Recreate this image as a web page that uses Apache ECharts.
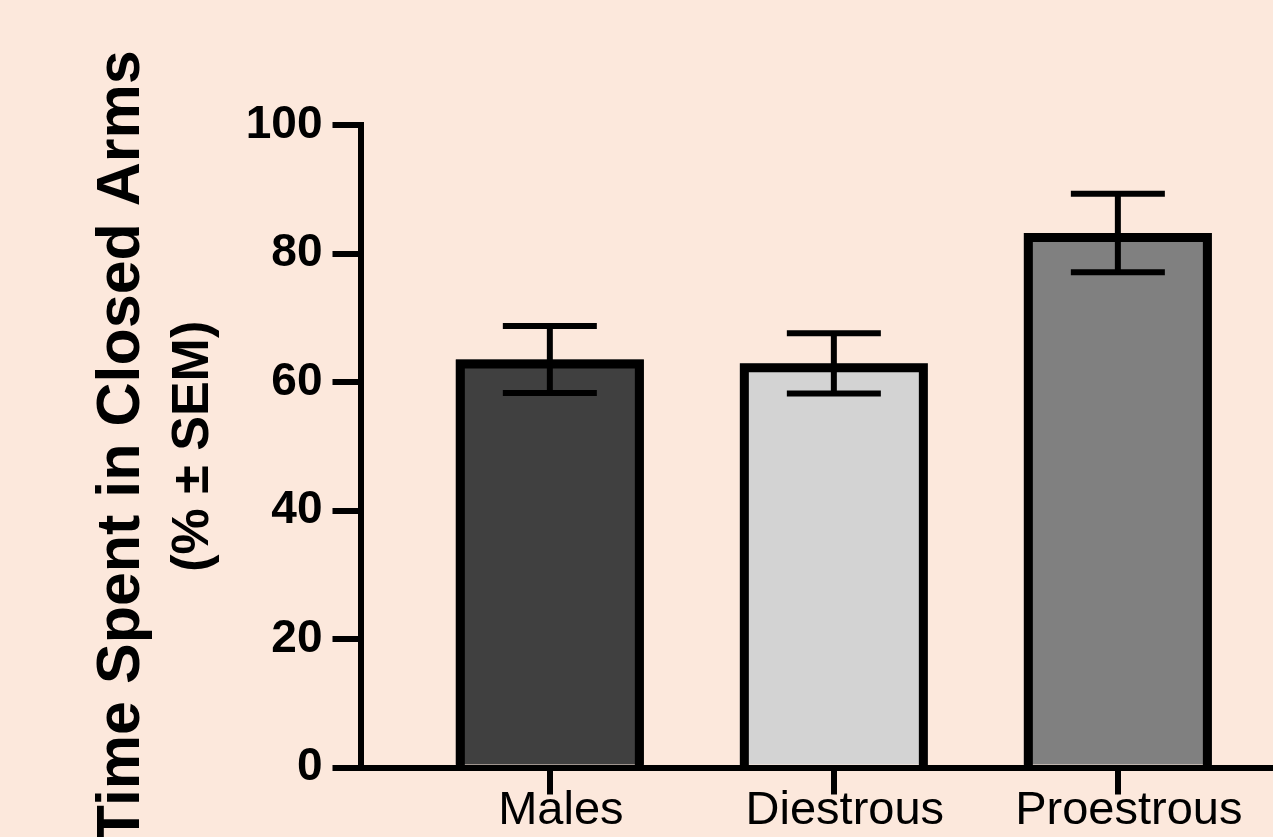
<!DOCTYPE html>
<html>
<head>
<meta charset="utf-8">
<script src="https://cdn.jsdelivr.net/npm/echarts@6/dist/echarts.min.js"></script>
<style>
  html, body { margin: 0; padding: 0; background: #fce8dc; }
  #chart { width: 1273px; height: 837px; }
</style>
</head>
<body>
<div id="chart"></div>
<script>
// Groups, means and SEM (% time in closed arms)
const categories = ['Males', 'Diestrous', 'Proestrous'];
const means = [63.5, 62.9, 83.2];
const sems = [5.2, 4.7, 6.1];
const fills = ['#404040', '#d3d3d3', '#808080'];
const categoryPositions = [0, 1, 2];

const FONT = '"Liberation Sans", Arial, Helvetica, sans-serif';
const BAR_FRACTION = 0.662;   // outer bar width as a fraction of one category step
const CAP_FRACTION = 0.331;   // error-bar cap width
const BORDER = 9;

const chart = echarts.init(document.getElementById('chart'), null, { renderer: 'canvas' });

chart.setOption({
  backgroundColor: '#fce8dc',
  animation: false,
  grid: {
    left: 360.5,
    top: 125,
    bottom: 69.5,
    width: 946.7,
    outerBoundsMode: 'none',
    containLabel: false
  },
  xAxis: {
    type: 'value',
    min: -2 / 3,
    max: 2 + 2 / 3,
    splitLine: { show: false },
    axisLine: { show: true, onZero: false, lineStyle: { color: '#000', width: 6, cap: 'square' } },
    axisTick: {
      show: true,
      customValues: categoryPositions,
      length: 27,
      lineStyle: { color: '#000', width: 6 }
    },
    axisLabel: {
      show: true,
      customValues: categoryPositions,
      formatter: (v) => categories[Math.round(v)] || '',
      margin: 20,
      padding: [0, 0, 0, 22],
      color: '#000',
      fontFamily: FONT,
      fontSize: 47
    }
  },
  yAxis: {
    type: 'value',
    min: 0,
    max: 100,
    interval: 20,
    splitLine: { show: false },
    axisLine: { show: true, onZero: false, lineStyle: { color: '#000', width: 6, cap: 'square' } },
    axisTick: { show: true, length: 28, lineStyle: { color: '#000', width: 6 } },
    axisLabel: {
      margin: 38,
      color: '#000',
      fontFamily: FONT,
      fontWeight: 'bold',
      fontSize: 46
    },
    name: '{t|Time Spent in Closed Arms}\n{s|(% ± SEM)}',
    nameLocation: 'middle',
    nameRotate: 90,
    nameGap: 137,
    nameTextStyle: {
      color: '#000',
      align: 'center',
      rich: {
        t: { fontFamily: FONT, fontWeight: 'bold', fontSize: 61, lineHeight: 82, color: '#000' },
        s: { fontFamily: FONT, fontWeight: 'bold', fontSize: 52, lineHeight: 60, color: '#000' }
      }
    }
  },
  series: [
    {
      name: 'bars',
      type: 'custom',
      data: categoryPositions.map((x, i) => [x, means[i]]),
      renderItem: function (params, api) {
        const i = api.value(0);
        const v = api.value(1);
        const top = api.coord([i, v]);
        const base = api.coord([i, 0]);
        const w = api.size([1, 0])[0] * BAR_FRACTION;
        const left = top[0] - w / 2;
        const right = top[0] + w / 2;
        const h = BORDER / 2;
        return {
          type: 'group',
          children: [
            {
              type: 'rect',
              shape: { x: left, y: top[1], width: w, height: base[1] - 3 - top[1] },
              style: { fill: fills[params.dataIndex] }
            },
            {
              type: 'polyline',
              shape: {
                points: [
                  [left + h, base[1]],
                  [left + h, top[1] + h],
                  [right - h, top[1] + h],
                  [right - h, base[1]]
                ]
              },
              style: { stroke: '#000', lineWidth: BORDER, fill: null, lineJoin: 'miter' }
            }
          ]
        };
      }
    },
    {
      name: 'sem',
      type: 'custom',
      z: 3,
      data: categoryPositions.map((x, i) => [x, means[i], sems[i]]),
      renderItem: function (params, api) {
        const i = api.value(0);
        const v = api.value(1);
        const s = api.value(2);
        const hi = api.coord([i, v + s]);
        const lo = api.coord([i, v - s]);
        const cw = api.size([1, 0])[0] * CAP_FRACTION;
        const st = { stroke: '#000', lineWidth: 6 };
        return {
          type: 'group',
          children: [
            { type: 'line', shape: { x1: hi[0], y1: hi[1], x2: lo[0], y2: lo[1] }, style: st },
            { type: 'line', shape: { x1: hi[0] - cw / 2, y1: hi[1], x2: hi[0] + cw / 2, y2: hi[1] }, style: st },
            { type: 'line', shape: { x1: lo[0] - cw / 2, y1: lo[1], x2: lo[0] + cw / 2, y2: lo[1] }, style: st }
          ]
        };
      }
    }
  ]
});
</script>
</body>
</html>
